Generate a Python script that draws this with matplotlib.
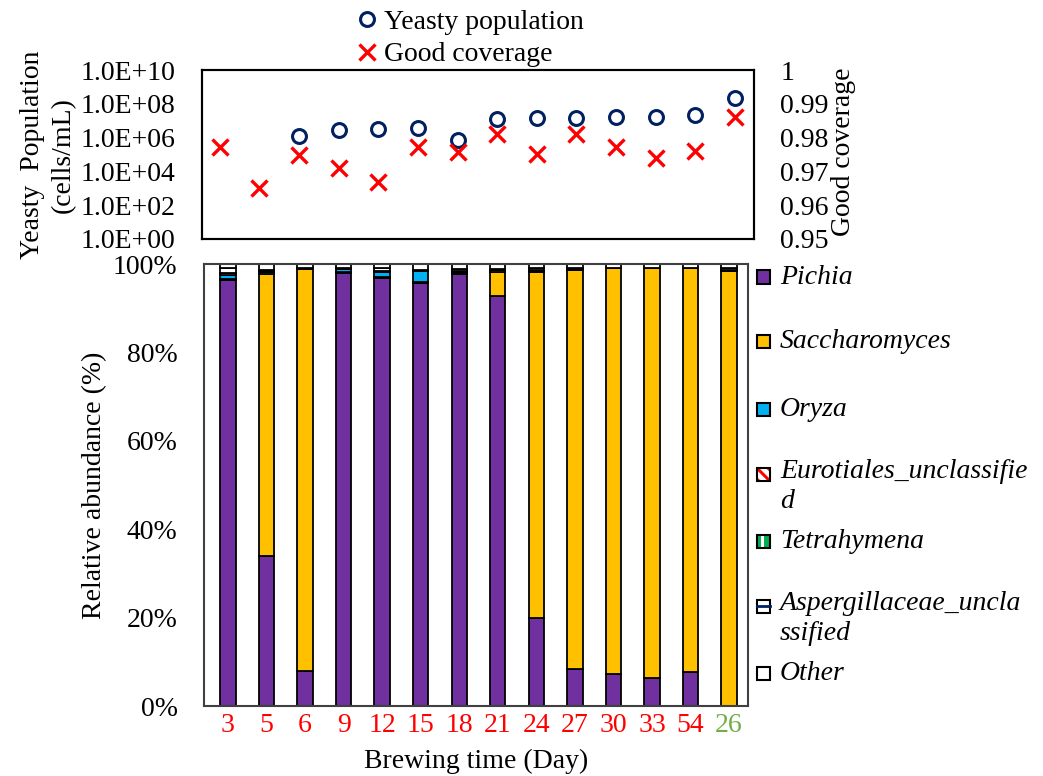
import matplotlib

matplotlib.use("Agg")
import matplotlib.pyplot as plt  # noqa: E402
import numpy as np  # noqa: E402
from matplotlib.lines import Line2D  # noqa: E402
from matplotlib.patches import Rectangle  # noqa: E402

PURPLE = "#7030A0"
GOLD = "#FFC000"
CYAN = "#00B0F0"
NAVY = "#002060"
RED = "#FF0000"
GREEN = "#00B050"
LIME = "#70AD47"

days = ["3", "5", "6", "9", "12", "15", "18", "21", "24", "27", "30", "33", "54", "26"]
day_colors = [RED] * 13 + [LIME]

yeast_pop = [np.nan, np.nan, 1.2e6, 2.8e6, 3.2e6, 3.7e6, 7.0e5,
             1.3e7, 1.4e7, 1.4e7, 1.7e7, 1.7e7, 2.2e7, 2.2e8]
good_cov = [0.9772, 0.9651, 0.9749, 0.9710, 0.9669, 0.9772, 0.9757,
            0.9811, 0.9751, 0.9811, 0.9772, 0.9740, 0.9760, 0.9861]

pichia = [96.4, 34.0, 8.0, 98.0, 96.9, 95.8, 97.7, 92.8, 20.0, 8.3, 7.3, 6.3, 7.8, 0.0]
saccharomyces = [0.2, 63.7, 90.9, 0.2, 0.2, 0.2, 0.3, 5.5, 78.3, 90.4, 91.7, 92.7, 91.2, 98.5]
oryza = [1.0, 0.4, 0.1, 0.6, 1.0, 2.4, 0.2, 0.4, 0.1, 0.1, 0.0, 0.0, 0.0, 0.0]
eurotiales = [0.3, 0.2, 0.1, 0.1, 0.3, 0.1, 0.2, 0.1, 0.3, 0.1, 0.1, 0.1, 0.1, 0.2]
tetrahymena = [0.1, 0.1, 0.0, 0.0, 0.1, 0.0, 0.0, 0.0, 0.0, 0.0, 0.0, 0.0, 0.0, 0.0]
aspergillaceae = [1.0, 0.3, 0.1, 0.1, 0.5, 0.2, 0.5, 0.1, 0.3, 0.1, 0.0, 0.0, 0.1, 0.3]
other = [1.0, 1.3, 0.8, 1.0, 1.0, 1.3, 1.1, 1.1, 1.0, 1.0, 0.9, 0.9, 0.8, 1.0]

genera = [
    ("Pichia", pichia, PURPLE, None, None),
    ("Saccharomyces", saccharomyces, GOLD, None, None),
    ("Oryza", oryza, CYAN, None, None),
    ("Eurotiales_unclassifie\nd", eurotiales, "white", "\\\\\\", RED),
    ("Tetrahymena", tetrahymena, GREEN, "||", "white"),
    ("Aspergillaceae_uncla\nssified", aspergillaceae, "white", "-", NAVY),
    ("Other", other, "white", None, None),
]

plt.rcParams.update(
    {
        "font.family": ["Liberation Serif", "DejaVu Serif"],
        "font.size": 20,
        "hatch.linewidth": 2.2,
    }
)

W, H = 1043, 776
fig = plt.figure(figsize=(W / 100, H / 100), dpi=100)


def fx(px):
    return px / W


def fy(py):
    return 1 - py / H


# ---- top panel: yeasty population + good coverage
ax1 = fig.add_axes([fx(202), fy(239), fx(754 - 202), fy(70) - fy(239)])
x = np.arange(len(days))
h_pop, = ax1.plot(x, yeast_pop, "o", ms=10, mfc="none", mec=NAVY, mew=2.2, linestyle="none")
ax1.set_yscale("log")
ax1.set_ylim(1, 1e10)
ax1.set_yticks([1, 1e2, 1e4, 1e6, 1e8, 1e10])
ax1.set_yticklabels(["1.0E+00", "1.0E+02", "1.0E+04", "1.0E+06", "1.0E+08", "1.0E+10"])
ax1.minorticks_off()
ax1.set_xlim(-0.45, 13.48)
ax1.set_xticks([])
ax1.tick_params(axis="y", length=0, pad=19)

ax2 = ax1.twinx()
h_cov, = ax2.plot(x, good_cov, "x", ms=11, mec=RED, mew=2.4, linestyle="none")
ax2.set_ylim(0.95, 1.0)
ax2.set_yticks([0.95, 0.96, 0.97, 0.98, 0.99, 1.0])
ax2.set_yticklabels(["0.95", "0.96", "0.97", "0.98", "0.99", "1"])
ax2.tick_params(axis="y", length=0, pad=19)
for a in (ax1, ax2):
    for s in a.spines.values():
        s.set_linewidth(1.5)
        s.set_color("black")

fig.text(fx(48), fy(155), "Yeasty  Population\n(cells/mL)", rotation=90,
         ha="center", va="center", multialignment="center", linespacing=1.3)
fig.text(fx(843), fy(152), "Good coverage", rotation=90, ha="center", va="center")

fig.legend([h_pop, h_cov], ["Yeasty population", "Good coverage"],
           loc="upper left", bbox_to_anchor=(fx(353), fy(4)), frameon=False,
           handlelength=0.6, handletextpad=0.3, labelspacing=0.25, borderaxespad=0,
           borderpad=0.2)

# ---- bottom panel: stacked relative abundance
ax3 = fig.add_axes([fx(204), fy(706), fx(748 - 204), fy(264) - fy(706)])
bottom = np.zeros(len(days))
for name, vals, color, hatch, hcolor in genera:
    vals = np.array(vals)
    ax3.bar(x, vals, 0.4, bottom=bottom, color=color, edgecolor="black",
            linewidth=1.3)
    bottom += vals
ax3.set_ylim(0, 100)
ax3.set_xlim(-0.62, 13.49)
ax3.set_yticks(range(0, 101, 20))
ax3.set_yticklabels([f"{v}%" for v in range(0, 101, 20)])
ax3.set_xticks(x)
ax3.set_xticklabels(days)
for lbl, c in zip(ax3.get_xticklabels(), day_colors):
    lbl.set_color(c)
ax3.tick_params(axis="y", length=0, pad=19)
ax3.tick_params(axis="x", length=0, pad=5)
for s in ax3.spines.values():
    s.set_linewidth(1.5)
    s.set_color("#404040")
ax3.set_ylabel("Relative abundance (%)", labelpad=4)
ax3.set_xlabel("Brewing time (Day)", labelpad=8)

# ---- manual legend for genera (fixed spacing like the original)
entry_y = [277, 342, 409, 474, 541, 606, 673]
sq = 13
for (name, vals, color, hatch, hcolor), ey in zip(genera, entry_y):
    x0, y0 = fx(757), fy(ey + sq / 2)
    wq, hq = fx(sq), sq / H
    if hatch == "-":
        fig.patches.append(Rectangle((x0, y0), wq, hq, transform=fig.transFigure,
                                     facecolor=color, edgecolor="black", linewidth=1.5))
        fig.lines.append(Line2D([x0, x0 + wq], [fy(ey), fy(ey)], transform=fig.transFigure,
                                color=hcolor, linewidth=2))
    elif hatch is not None:
        fig.patches.append(Rectangle((x0, y0), wq, hq, transform=fig.transFigure,
                                     facecolor=color, edgecolor=hcolor, hatch=hatch,
                                     linewidth=0))
        fig.patches.append(Rectangle((x0, y0), wq, hq, transform=fig.transFigure,
                                     facecolor="none", edgecolor="black", linewidth=1.5))
    else:
        fig.patches.append(Rectangle((x0, y0), wq, hq, transform=fig.transFigure,
                                     facecolor=color, edgecolor="black", linewidth=1.5))
    if "\n" in name:
        fig.text(fx(780), fy(ey - 15), name, style="italic", ha="left", va="top",
                 linespacing=1.25)
    else:
        fig.text(fx(780), fy(ey), name, style="italic", ha="left", va="center")

fig.savefig("out.png", dpi=100, facecolor="white")
